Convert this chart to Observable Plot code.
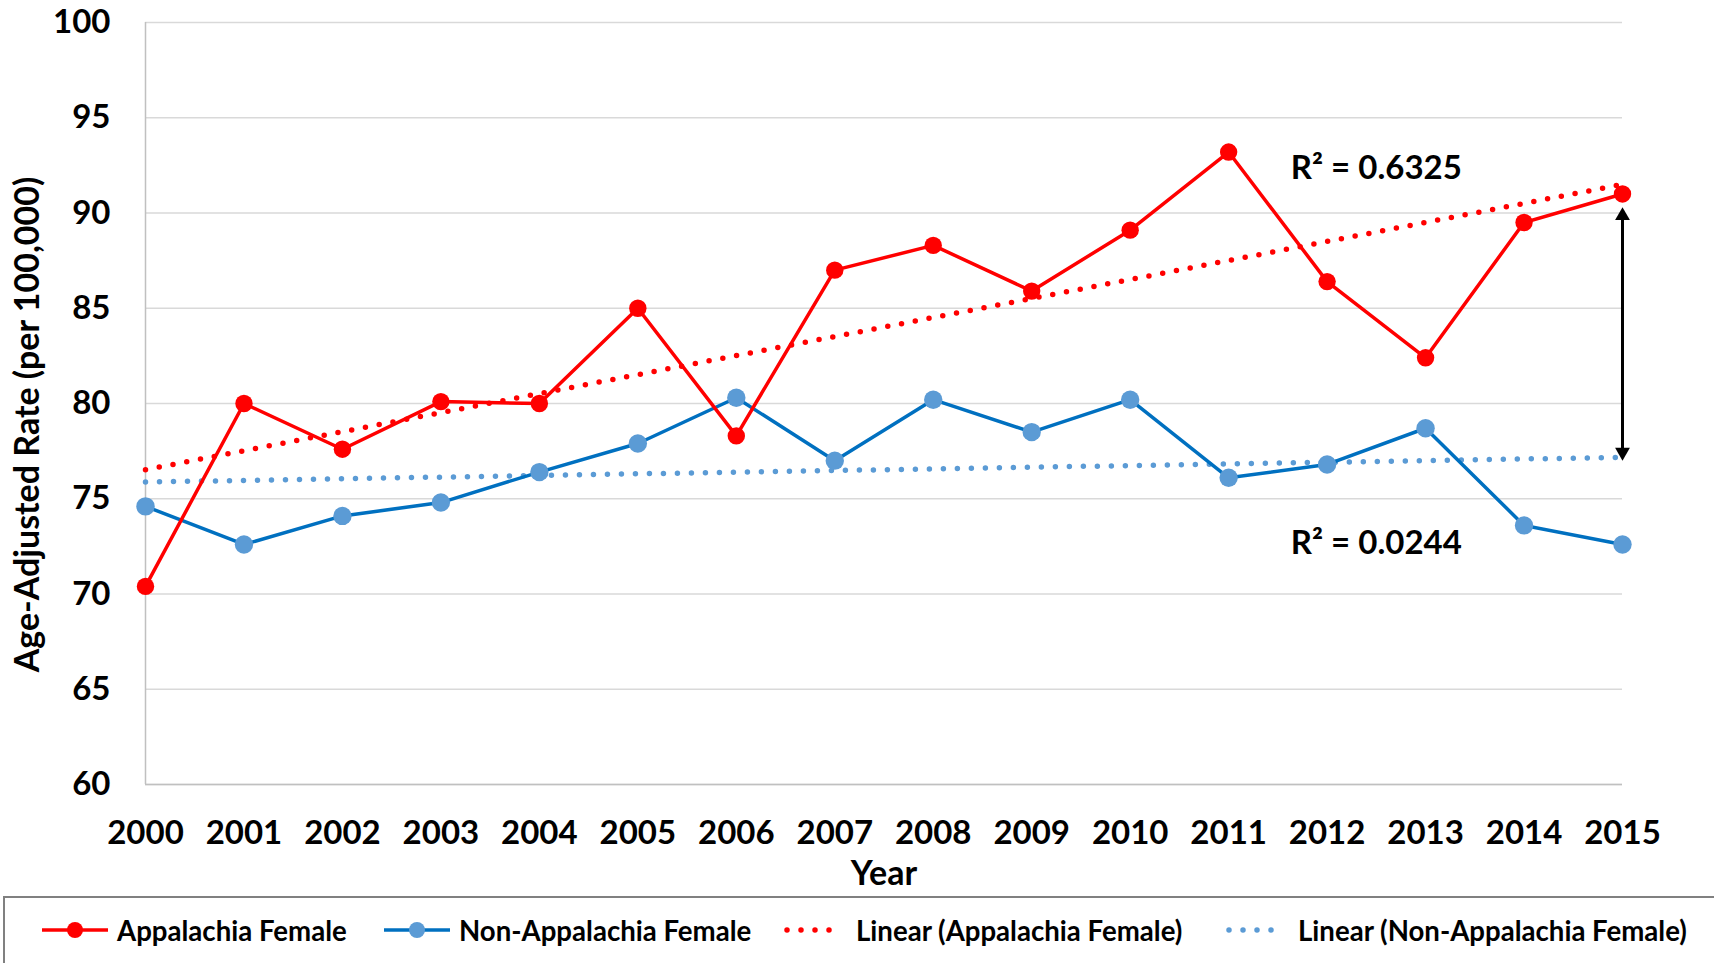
<!DOCTYPE html>
<html>
<head>
<meta charset="utf-8">
<script src="https://cdn.jsdelivr.net/npm/d3@7"></script>
<script src="https://cdn.jsdelivr.net/npm/@observablehq/plot@0.6"></script>
<style>
  html, body { margin: 0; padding: 0; background: #fff; }
  #wrap { position: relative; width: 1714px; height: 963px; overflow: hidden; font-family: Lato, "Open Sans", sans-serif; }
  #chart svg { display: block; }
  .legend { position: absolute; left: 3px; top: 896px; width: 1730px; height: 90px; border: 2px solid #808080; box-sizing: border-box; }
  .item { position: absolute; top: 12px; height: 40px; display: flex; align-items: center; font-weight: 700; font-size: 27.6px; color: #000; white-space: nowrap; }
  .item svg { display: block; margin-right: 7px; }
</style>
</head>
<body>
<div id="wrap">
  <div id="chart"></div>
  <div class="legend" id="legend"></div>
</div>
<script>
// ---- data ----
const years = [2000, 2001, 2002, 2003, 2004, 2005, 2006, 2007, 2008, 2009, 2010, 2011, 2012, 2013, 2014, 2015];
const appalachiaFemale = [70.4, 80.0, 77.6, 80.1, 80.0, 85.0, 78.3, 87.0, 88.3, 85.9, 89.1, 93.2, 86.4, 82.4, 89.5, 91.0];
const nonAppalachiaFemale = [74.6, 72.6, 74.1, 74.8, 76.4, 77.9, 80.3, 77.0, 80.2, 78.5, 80.2, 76.1, 76.8, 78.7, 73.6, 72.6];
const yTicks = [60, 65, 70, 75, 80, 85, 90, 95, 100];
const seriesNames = ["Appalachia Female", "Non-Appalachia Female", "Linear (Appalachia Female)", "Linear (Non-Appalachia Female)"];
const r2Text = ["R\u00B2 = 0.6325", "R\u00B2 = 0.0244"];
const r2Year = [2012.5, 2012.5];
const r2Value = [92.35, 72.65];
const arrowYear = 2015;
const arrowLow = 77.0;
const arrowHigh = 90.3;

// ---- colours ----
const RED = "#FF0000";
const BLUE_LINE = "#0070C0";
const BLUE_DOT = "#5B9BD5";

const dataA = years.map((year, i) => ({year, value: appalachiaFemale[i]}));
const dataN = years.map((year, i) => ({year, value: nonAppalachiaFemale[i]}));
const r2 = r2Text.map((t, i) => ({text: t, year: r2Year[i], value: r2Value[i]}));

const plot = Plot.plot({
  width: 1714,
  height: 896,
  marginLeft: 145,
  marginRight: 92,
  marginTop: 22,
  marginBottom: 112,
  style: {fontFamily: "Lato, 'Open Sans', sans-serif", color: "#000", background: "transparent", overflow: "visible"},
  x: {type: "linear", domain: [2000, 2015]},
  y: {type: "linear", domain: [60, 100]},
  marks: [
    Plot.ruleY(yTicks, {stroke: "#d9d9d9", strokeWidth: 1.5}),
    Plot.ruleX([2000], {stroke: "#c0c0c0", strokeWidth: 1.5}),
    Plot.ruleY([60], {stroke: "#c0c0c0", strokeWidth: 1.5}),
    Plot.axisX(years, {tickSize: 0, tickPadding: 36, tickFormat: d => String(d), label: null, fontSize: 33, fontWeight: 700}),
    Plot.axisY(yTicks, {tickSize: 0, tickPadding: 35, tickFormat: d => String(d), label: null, fontSize: 33, fontWeight: 700}),
    Plot.text(["Year"], {frameAnchor: "bottom", dy: 100, fontSize: 34, fontWeight: 700}),
    Plot.text(["Age-Adjusted Rate (per 100,000)"], {frameAnchor: "left", textAnchor: "middle", rotate: -90, dx: -117, dy: 21, fontSize: 34, fontWeight: 700}),
    // trend lines
    Plot.linearRegressionY(dataN, {x: "year", y: "value", ci: 0, stroke: BLUE_DOT, strokeWidth: 5.5, strokeDasharray: "0 14", strokeLinecap: "round"}),
    Plot.linearRegressionY(dataA, {x: "year", y: "value", ci: 0, stroke: RED, strokeWidth: 5.5, strokeDasharray: "0 14", strokeLinecap: "round"}),
    // series
    Plot.line(dataN, {x: "year", y: "value", stroke: BLUE_LINE, strokeWidth: 3.5}),
    Plot.dot(dataN, {x: "year", y: "value", r: 9.2, fill: BLUE_DOT}),
    Plot.line(dataA, {x: "year", y: "value", stroke: RED, strokeWidth: 3.5}),
    Plot.dot(dataA, {x: "year", y: "value", r: 8.7, fill: RED}),
    // difference arrow
    Plot.ruleX([arrowYear], {y1: arrowLow + 0.5, y2: arrowHigh - 0.5, stroke: "#000", strokeWidth: 3}),
    Plot.dot([{year: arrowYear, value: arrowHigh}], {x: "year", y: "value", symbol: "triangle", r: 5.5, fill: "#000", dy: 8.5}),
    Plot.dot([{year: arrowYear, value: arrowLow}], {x: "year", y: "value", symbol: "triangle", r: 5.5, fill: "#000", rotate: 180, dy: -8.5}),
    // R² labels
    Plot.text(r2, {x: "year", y: "value", text: "text", fontSize: 33, fontWeight: 700, fill: "#000"})
  ]
});
document.getElementById("chart").appendChild(plot);

// ---- legend ----
const legend = document.getElementById("legend");
const legendLeft = [35, 377, 778, 1220];
function swatch(kind, color, lineColor) {
  const ns = "http://www.w3.org/2000/svg";
  const svg = document.createElementNS(ns, "svg");
  svg.setAttribute("width", kind === "solid" ? 70 : 66);
  svg.setAttribute("height", 20);
  if (kind === "solid") {
    const l = document.createElementNS(ns, "line");
    l.setAttribute("x1", 2); l.setAttribute("x2", 68); l.setAttribute("y1", 10); l.setAttribute("y2", 10);
    l.setAttribute("stroke", lineColor); l.setAttribute("stroke-width", 3.5);
    svg.appendChild(l);
    const c = document.createElementNS(ns, "circle");
    c.setAttribute("cx", 35); c.setAttribute("cy", 10); c.setAttribute("r", 8);
    c.setAttribute("fill", color);
    svg.appendChild(c);
  } else {
    const l = document.createElementNS(ns, "line");
    l.setAttribute("x1", 4); l.setAttribute("x2", 60); l.setAttribute("y1", 10); l.setAttribute("y2", 10);
    l.setAttribute("stroke", color); l.setAttribute("stroke-width", 5.5);
    l.setAttribute("stroke-linecap", "round"); l.setAttribute("stroke-dasharray", "0 14");
    svg.appendChild(l);
  }
  return svg;
}
const swatches = [["solid", RED, RED], ["solid", BLUE_DOT, BLUE_LINE], ["dot", RED], ["dot", BLUE_DOT]];
seriesNames.forEach((name, i) => {
  const div = document.createElement("div");
  div.className = "item";
  div.style.left = legendLeft[i] + "px";
  div.appendChild(swatch(...swatches[i]));
  const span = document.createElement("span");
  span.textContent = name;
  div.appendChild(span);
  legend.appendChild(div);
});
</script>
</body>
</html>
